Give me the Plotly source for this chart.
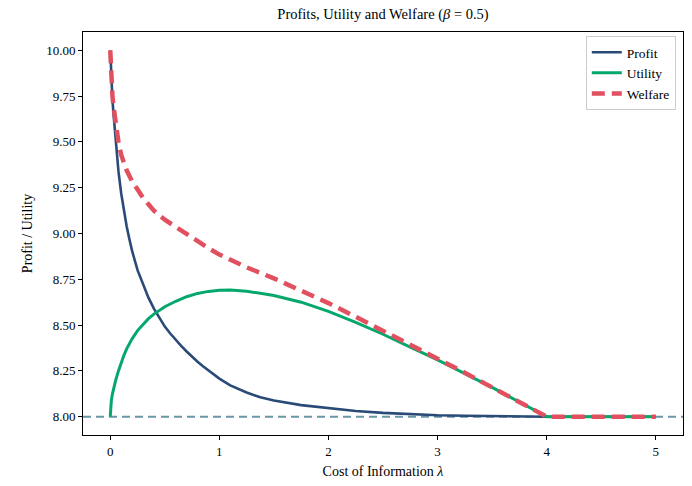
import plotly.graph_objects as go

lam_p = [0.0, 0.005, 0.01, 0.02, 0.03, 0.05, 0.075, 0.1, 0.125, 0.15, 0.175, 0.2, 0.25, 0.3, 0.35,
         0.4, 0.45, 0.5, 0.55, 0.6, 0.65, 0.7, 0.75, 0.8, 0.85, 0.9, 0.95, 1.0, 1.1, 1.25, 1.375,
         1.5, 1.75, 2.0, 2.25, 2.5, 2.75, 3.0, 3.25, 3.5, 3.75, 4.0, 4.5, 5.0]
profit = [10.0, 9.90, 9.83, 9.73, 9.65, 9.50, 9.34, 9.22, 9.12, 9.04, 8.97, 8.905, 8.80, 8.72, 8.65,
          8.59, 8.537, 8.492, 8.454, 8.418, 8.386, 8.356, 8.327, 8.30, 8.275, 8.251, 8.229, 8.208, 8.171,
          8.132, 8.106, 8.088, 8.063, 8.045, 8.031, 8.021, 8.013, 8.008, 8.005, 8.003, 8.001, 8.0, 8.0, 8.0]

lam_u = [0.0, 0.002, 0.005, 0.01, 0.02, 0.03, 0.05, 0.075, 0.1, 0.125, 0.15, 0.2, 0.25, 0.3, 0.35,
         0.4, 0.5, 0.6, 0.7, 0.8, 0.9, 1.0, 1.1, 1.25, 1.5, 1.75, 2.0, 2.25, 2.5, 2.75,
         3.0, 3.25, 3.5, 3.75, 4.0, 4.5, 5.0]
utility = [8.0, 8.04, 8.065, 8.09, 8.125, 8.155, 8.20, 8.25, 8.295, 8.335, 8.37, 8.425, 8.47, 8.505, 8.535,
           8.56, 8.60, 8.63, 8.655, 8.673, 8.684, 8.69, 8.691, 8.685, 8.662, 8.625, 8.575, 8.515, 8.45, 8.38,
           8.31, 8.235, 8.16, 8.08, 8.0, 8.0, 8.0]

lam_w = [0.0, 0.005, 0.01, 0.02, 0.03, 0.05, 0.075, 0.1, 0.125, 0.15, 0.2, 0.25, 0.3, 0.35,
         0.4, 0.5, 0.6, 0.7, 0.8, 0.9, 1.0, 1.1, 1.25, 1.5, 1.75, 2.0, 2.25, 2.5, 2.75,
         3.0, 3.25, 3.5, 3.75, 4.0, 4.5, 5.0]
welfare = [10.0, 9.87, 9.82, 9.75, 9.69, 9.60, 9.50, 9.43, 9.385, 9.345, 9.285, 9.235, 9.195, 9.16,
           9.125, 9.075, 9.035, 8.995, 8.955, 8.92, 8.885, 8.855, 8.815, 8.755, 8.69, 8.62, 8.545, 8.47, 8.39,
           8.315, 8.24, 8.16, 8.08, 8.0, 8.0, 8.0]

baseline = 8.0
x_ticks = [0, 1, 2, 3, 4, 5]
y_ticks = [8.00, 8.25, 8.50, 8.75, 9.00, 9.25, 9.50, 9.75, 10.00]

FONT = "Liberation Serif"

fig = go.Figure()
fig.add_trace(go.Scatter(x=lam_p, y=profit, mode="lines", name="Profit",
                         line=dict(color="#2a4a78", width=2.6)))
fig.add_trace(go.Scatter(x=lam_u, y=utility, mode="lines", name="Utility",
                         line=dict(color="#05a86c", width=3)))
fig.add_trace(go.Scatter(x=lam_w, y=welfare, mode="lines", name="Welfare",
                         line=dict(color="#e0505e", width=4.5, dash="13px,7px")))

fig.add_shape(type="line", xref="paper", yref="y", x0=0, x1=1, y0=baseline, y1=baseline,
              line=dict(color="#6a96a9", width=2, dash="8px,5px"), layer="below")

axis_common = dict(showline=True, linecolor="black", linewidth=1, mirror=True,
                   ticks="outside", ticklen=4, tickcolor="black", showgrid=False, zeroline=False,
                   tickfont=dict(family=FONT, size=13, color="black"))

fig.update_layout(
    width=692, height=486,
    margin=dict(l=83, r=9, t=32, b=51),
    paper_bgcolor="white", plot_bgcolor="white",
    font=dict(family=FONT, size=13, color="black"),
    title=dict(text="Profits, Utility and Welfare (<i>β</i> = 0.5)", x=0.5535, xanchor="center",
               y=0.972, yanchor="middle", font=dict(family=FONT, size=14.5, color="black")),
    xaxis=dict(range=[-0.25, 5.25], tickvals=x_ticks, ticktext=[str(v) for v in x_ticks],
               title=dict(text="Cost of Information <i>λ</i>", font=dict(family=FONT, size=14), standoff=8),
               **axis_common),
    yaxis=dict(range=[7.9, 10.1], tickvals=y_ticks, ticktext=[f"{v:.2f}" for v in y_ticks],
               title=dict(text="Profit / Utility", font=dict(family=FONT, size=14), standoff=10),
               **axis_common),
    legend=dict(x=0.988, y=0.99, xanchor="right", yanchor="top", bgcolor="white",
                bordercolor="#cccccc", borderwidth=1, font=dict(family=FONT, size=13.5),
                tracegroupgap=0, itemwidth=30),
    showlegend=True,
)

fig.write_html("out.html")
